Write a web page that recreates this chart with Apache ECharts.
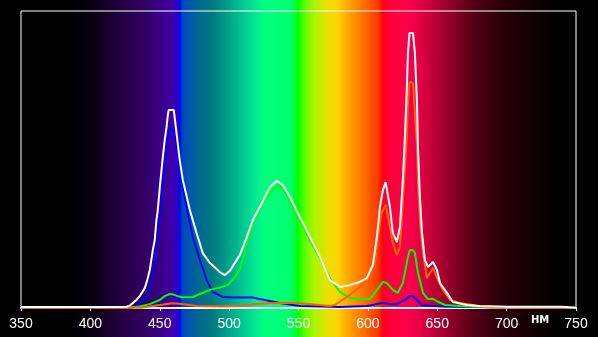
<!DOCTYPE html>
<html><head><meta charset="utf-8">
<script src="https://cdn.jsdelivr.net/npm/echarts@6/dist/echarts.min.js"></script>
<style>html,body{margin:0;padding:0;background:#000;}#c{width:598px;height:337px;}</style>
</head><body><div id="c"></div>
<script>
// Wavelength axis ticks (nm)
var xTicks = [350, 400, 450, 500, 550, 600, 650, 700, 750];
var unitLabel = 'НМ';

// White (total) spectrum
var whiteNm  = [350,420,426,428.4,433.2,435.6,439.2,441,442.8,445,446.4,447.6,448.6,450,452.2,453.6,454.9,455.8,456.5,460.1,462.1,464.4,466.6,471.7,476.5,481,486.1,493.3,496.9,500.5,507.7,512.8,517.1,522.2,529.4,534.4,538.7,543.8,551,558.2,565.4,572.6,579.8,587,594.2,599.3,603.6,606.5,608.7,610.8,612.8,615.9,618,620.9,623.1,625.2,626.7,628.1,628.9,630,632.5,633.9,635.4,636.1,637.5,639,641.1,643.3,646.9,649.8,652,657,661.3,671.4,680.8,701,740,741,750];
var whiteVal = [0.3,0.3,0.4,0.8,2.7,4.0,6.7,9.4,12.8,19.5,22.9,29.6,33.0,40.4,50.8,56.6,60.9,65.0,66.7,66.7,58.9,49.8,43.1,33.0,25.3,18.5,15.2,12.1,11.1,12.5,17.8,23.9,29.6,34.0,40.7,42.8,41.4,37.4,30.6,23.9,17.2,9.4,7.1,7.7,8.8,10.1,14.5,23.9,34.0,39.7,42.4,34.0,25.3,22.2,27.3,43.1,57.6,74.4,85.9,92.6,92.6,85.9,69.0,54.2,37.4,25.3,16.2,13.8,15.5,12.8,8.4,5.1,2.0,1.0,0.7,0.4,0.4,0.1,0.1];

// Blue channel
var blueNm  = [350,428,430.6,435.6,440.4,444,446.4,448.6,451.2,453.6,455.8,457.3,459.4,462.1,464.4,466.6,470.2,473.8,478.9,483.9,488.2,495.4,502.6,517.1,522.2,536.6,551,579.8,599.3,605,610.8,615.9,620.9,626.7,630.3,632.5,635.4,639,646.9,657,680,750];
var blueVal = [0.1,0.1,0.3,1.3,3.7,9.4,16.2,25.3,36.4,47.5,56.6,60.6,60.6,55.6,47.5,40.7,32.0,23.9,16.2,9.4,5.4,3.7,3.5,3.5,3.0,1.7,0.7,0.3,0.7,1.2,1.8,1.3,1.3,2.7,4.0,4.0,2.7,1.0,0.7,0.4,0.3,0.1];

// Green channel
var greenNm  = [350,428.4,435.6,442.8,450,453.6,457.3,459.4,463,465.9,473.8,478.9,486.1,493.3,499,504.1,507.7,512.8,517.1,524.3,529.4,535.1,538.7,543.8,551,558.2,565.4,572.6,576.2,579.8,587,594.2,601.5,606.5,610.8,613.7,618,621.6,625.2,628.9,630.3,632.5,633.9,636.1,639.7,643.3,646.9,650.5,655.6,666.4,678.7,690,750];
var greenVal = [0.1,0.2,0.5,1.3,2.7,4.0,4.7,4.6,4.0,3.6,3.7,4.7,6.1,6.9,7.7,10.4,12.8,22.2,28.6,35.4,38.7,41.4,40.4,36.4,29.6,22.9,16.8,10.1,7.7,5.4,3.4,3.0,3.0,6.1,8.8,8.4,6.1,5.1,8.4,17.2,19.5,19.5,18.5,11.8,5.1,3.0,3.1,2.1,1.0,0.7,0.4,0.2,0.1];

// Red channel
var redNm  = [350,435.6,442.8,450,454.2,458.8,464.4,471.7,477.2,493.3,509.2,517.1,529.4,540.2,551,565.4,572.6,576.2,579.8,587,594.2,601.5,605,607.2,609.9,612.8,615.9,618,620.9,623.1,625.2,628.1,628.9,630,632.5,633.9,635.4,636.1,637.5,639.7,642.6,644.8,646.9,650.5,654.1,659.2,666.4,675.8,680,690,750];
var redVal = [0.1,0.1,0.5,1.0,1.3,1.6,1.4,1.0,0.7,0.5,0.7,1.3,1.6,1.8,1.6,1.0,0.7,1.0,2.1,4.4,7.1,10.4,14.5,23.9,32.0,34.7,27.3,21.9,17.8,20.5,36.4,57.6,69.0,76.1,75.8,65.7,54.2,43.1,29.6,18.5,10.1,11.8,13.5,9.4,6.1,2.7,1.7,1.0,0.4,0.2,0.1];

function zip(a, b) { return a.map(function (v, i) { return [v, b[i]]; }); }

var spectrumStops = [
  [0.000,'#000000'],[0.120,'#000000'],[0.159,'#0a0014'],[0.184,'#1a0030'],[0.209,'#280048'],
  [0.242,'#300060'],[0.268,'#3a0088'],[0.288,'#4000a8'],[0.297,'#2800d0'],[0.301,'#0010e0'],
  [0.305,'#0044c4'],[0.318,'#0058a8'],[0.334,'#006a90'],[0.355,'#007a80'],[0.376,'#009888'],
  [0.401,'#00c090'],[0.426,'#00e890'],[0.443,'#00ff80'],[0.485,'#00ff70'],[0.495,'#00ff30'],
  [0.498,'#00ff00'],[0.510,'#60ff00'],[0.527,'#b0f400'],[0.548,'#e8e000'],[0.564,'#ffd400'],
  [0.580,'#ffac00'],[0.597,'#ff8800'],[0.615,'#ff6000'],[0.632,'#ff3800'],[0.637,'#ff1800'],
  [0.640,'#ff0020'],[0.652,'#ff0038'],[0.677,'#ff0048'],[0.694,'#f00048'],[0.719,'#c8003a'],
  [0.753,'#900028'],[0.786,'#5c0018'],[0.819,'#380010'],[0.853,'#220008'],[0.886,'#140004'],
  [0.920,'#060000'],[0.945,'#000000'],[1.000,'#000000']
];

var chart = echarts.init(document.getElementById('c'), null, {renderer: 'canvas'});
var lbl = {color: '#ffffff', fontFamily: '"Liberation Sans Narrow", "Liberation Sans", Arial, sans-serif', fontSize: 14};
function mk(name, nm, val, color, z) {
  return {name: name, type: 'line', data: zip(nm, val), showSymbol: false, z: z,
    lineStyle: {color: color, width: 2}, itemStyle: {color: color}, animation: false};
}
chart.setOption({
  backgroundColor: '#000',
  animation: false,
  graphic: [
    {type: 'rect', z: -100, silent: true, shape: {x: 0, y: 0, width: 598, height: 337},
     style: {fill: new echarts.graphic.LinearGradient(0, 0, 1, 0,
       spectrumStops.map(function (s) { return {offset: s[0], color: s[1]}; }))}},
    {type: 'text', left: 531, top: 315, z: 10, silent: true,
     style: {text: unitLabel, fill: '#ffffff', font: 'bold 10px "DejaVu Sans", sans-serif'}}
  ],
  grid: {left: 21, right: 22, top: 11, bottom: 29, show: true, borderColor: '#ffffff', borderWidth: 1, backgroundColor: 'transparent'},
  xAxis: {
    type: 'value', min: 350, max: 750, interval: 50,
    axisLine: {show: true, lineStyle: {color: '#ffffff', width: 2}},
    axisTick: {show: true, length: 3, lineStyle: {color: '#ffffff'}},
    splitLine: {show: false},
    axisLabel: Object.assign({margin: 9, customValues: xTicks}, lbl)
  },
  yAxis: {type: 'value', min: 0, max: 100, show: false, splitLine: {show: false}},
  series: [
    mk('blue', blueNm, blueVal, '#0000ff', 2),
    mk('green', greenNm, greenVal, '#00ff00', 3),
    mk('red', redNm, redVal, '#ff6000', 4),
    mk('white', whiteNm, whiteVal, '#ffffff', 5)
  ]
});
</script></body></html>
